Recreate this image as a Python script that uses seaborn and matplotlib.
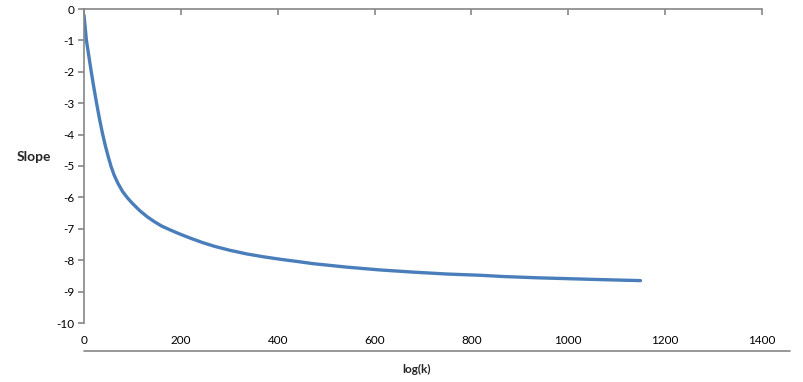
import matplotlib
matplotlib.use("Agg")
import matplotlib.pyplot as plt
from matplotlib.lines import Line2D
import seaborn as sns
import pandas as pd

# Data
log_k = [0, 5, 10, 15, 20, 26, 32, 38, 44, 50, 56, 62, 70, 80, 90, 100, 115, 130,
         145, 160, 180, 200, 220, 245, 270, 300, 336, 370, 405, 440, 473, 542, 611,
         680, 749, 818, 866, 935, 1003, 1072, 1149]
slope = [-0.2, -1.0, -1.5, -2.0, -2.47, -3.0, -3.5, -3.95, -4.35, -4.7, -5.02,
         -5.28, -5.55, -5.82, -6.02, -6.19, -6.42, -6.61, -6.77, -6.91, -7.05,
         -7.18, -7.3, -7.44, -7.56, -7.68, -7.8, -7.89, -7.97, -8.04, -8.11, -8.22,
         -8.31, -8.38, -8.44, -8.48, -8.52, -8.56, -8.59, -8.62, -8.65]
x_ticks = [0, 200, 400, 600, 800, 1000, 1200, 1400]
y_ticks = [0, -1, -2, -3, -4, -5, -6, -7, -8, -9, -10]

sns.set_theme(style="white")
plt.rcParams["font.family"] = ["Lato", "DejaVu Sans"]

W, H = 804, 382
fig = plt.figure(figsize=(W / 100, H / 100), dpi=100)
ax = fig.add_axes([84 / W, (H - 323) / H, 678 / W, (323 - 9) / H])

df = pd.DataFrame({"log(k)": log_k, "Slope": slope})
sns.lineplot(data=df, x="log(k)", y="Slope", ax=ax, color="#4a7ebb",
             linewidth=2.4, sort=False, estimator=None)

gray = "#868686"
ax.set_xlim(0, 1400)
ax.set_ylim(-10, 0)
ax.set_xticks(x_ticks)
ax.set_xticklabels([str(v) for v in x_ticks])
ax.set_yticks(y_ticks)
ax.set_yticklabels([str(v) for v in y_ticks])

for side in ["bottom", "right"]:
    ax.spines[side].set_visible(False)
for side in ["top", "left"]:
    ax.spines[side].set_visible(True)
    ax.spines[side].set_color(gray)
    ax.spines[side].set_linewidth(1.2)

ax.tick_params(axis="x", which="both", top=True, bottom=False, direction="in",
               length=4, width=1.2, color=gray, labeltop=False, labelbottom=True,
               pad=9, labelsize=8.5, labelcolor="black")
ax.tick_params(axis="y", which="both", left=True, direction="out", length=4,
               width=1.2, color=gray, pad=3, labelsize=8.5, labelcolor="black")
ax.grid(False)
ax.set_xlabel("")
ax.set_ylabel("")

fig.text(17 / W, 1 - 157 / H, "Slope", fontsize=10, fontweight="bold",
         ha="left", va="center")
fig.text(417 / W, 1 - 369 / H, "log(k)", fontsize=8.5, fontweight="bold",
         ha="center", va="center")

fig.add_artist(Line2D([84 / W, 790 / W], [1 - 351 / H, 1 - 351 / H],
                      transform=fig.transFigure, color=gray, linewidth=1.2))

fig.savefig("out.png", dpi=100)
